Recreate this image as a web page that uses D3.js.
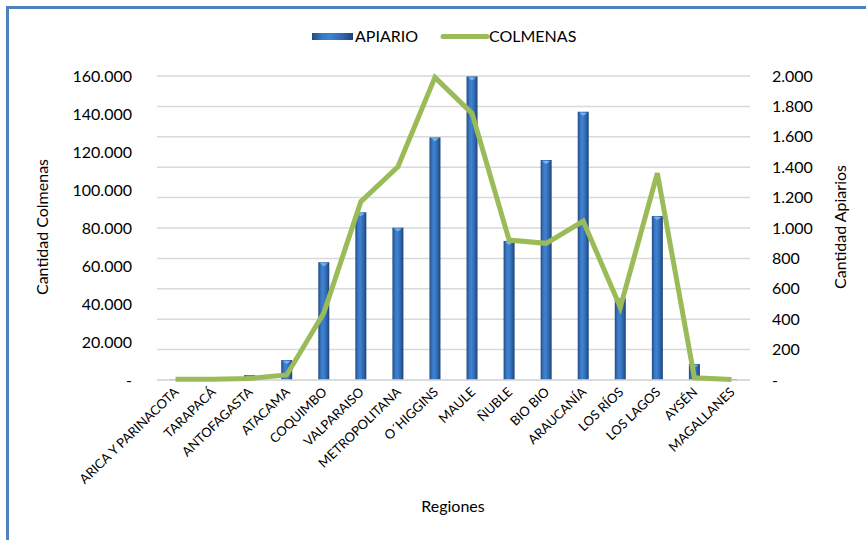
<!DOCTYPE html>
<html>
<head>
<meta charset="utf-8">
<script src="https://cdn.jsdelivr.net/npm/d3@7"></script>
<style>
  html, body { margin: 0; padding: 0; background: #fff; }
  svg { display: block; font-family: Lato, "Open Sans", sans-serif; }
</style>
</head>
<body>
<svg id="chart" width="866" height="540"></svg>
<script>
// ---- data ----
const regiones = ["ARICA Y PARINACOTA","TARAPACÁ","ANTOFAGASTA","ATACAMA","COQUIMBO","VALPARAISO","METROPOLITANA","O´HIGGINS","MAULE","ÑUBLE","BIO BIO","ARAUCANÍA","LOS RÍOS","LOS LAGOS","AYSÉN","MAGALLANES"];
const apiario  = [300, 100, 2600, 10500, 62000, 88300, 80200, 127700, 159800, 73200, 115800, 141200, 43000, 86300, 8400, 500];
const colmenas = [5, 5, 10, 33, 441, 1173, 1403, 1991, 1754, 921, 899, 1046, 478, 1360, 15, 4];
const leftTicks  = [0, 20000, 40000, 60000, 80000, 100000, 120000, 140000, 160000];
const rightTicks = [0, 200, 400, 600, 800, 1000, 1200, 1400, 1600, 1800, 2000];
const seriesNames = ["APIARIO", "COLMENAS"];

// ---- layout ----
const svg = d3.select("#chart");
const L = 157, R = 750, T = 76, B = 380;

const fmt = v => v === 0 ? "-" : d3.format(",")(v).replace(/,/g, ".");

const x = d3.scaleBand().domain(regiones).range([L, R]).padding(0);
const yL = d3.scaleLinear().domain([0, 160000]).range([B, T]);
const yR = d3.scaleLinear().domain([0, 2000]).range([B, T]);

// chart frame
svg.append("rect").attr("x", 7.5).attr("y", 7.5).attr("width", 880).attr("height", 560)
  .attr("fill", "none").attr("stroke", "#4f81bd").attr("stroke-width", 3);

// gradients
const defs = svg.append("defs");
const g = defs.append("linearGradient").attr("id", "barGrad").attr("x1", "0").attr("x2", "1").attr("y1", "0").attr("y2", "0");
[["0%", "#1f4a82"], ["25%", "#3a78c4"], ["45%", "#3f82d2"], ["75%", "#2f65ab"], ["100%", "#1c4378"]]
  .forEach(([o, c]) => g.append("stop").attr("offset", o).attr("stop-color", c));

// gridlines (from right axis)
svg.append("g").selectAll("line").data(rightTicks).join("line")
  .attr("x1", L).attr("x2", R)
  .attr("y1", d => yR(d)).attr("y2", d => yR(d))
  .attr("stroke", "#d9d9d9").attr("stroke-width", 1.5);

// left axis
const axL = svg.append("g").attr("transform", `translate(${L},0)`)
  .call(d3.axisLeft(yL).tickValues(leftTicks).tickFormat(fmt).tickSize(0).tickPadding(25));
axL.select(".domain").remove();
axL.selectAll("text").attr("font-size", 16).attr("fill", "#000").attr("font-family", "Lato, sans-serif");

// right axis
const axR = svg.append("g").attr("transform", `translate(${R},0)`)
  .call(d3.axisRight(yR).tickValues(rightTicks).tickFormat(fmt).tickSize(0).tickPadding(22));
axR.select(".domain").remove();
axR.selectAll("text").attr("font-size", 16).attr("fill", "#000").attr("font-family", "Lato, sans-serif");

// bars
const bw = 11;
const bars = svg.append("g");
bars.selectAll("rect").data(regiones).join("rect")
  .attr("x", d => x(d) + x.bandwidth() / 2 - bw / 2)
  .attr("width", bw)
  .attr("y", (d, i) => yL(apiario[i]))
  .attr("height", (d, i) => B - yL(apiario[i]))
  .attr("fill", "url(#barGrad)");
bars.selectAll("path.cap").data(regiones).join("path").attr("class", "cap")
  .attr("d", (d, i) => {
    const cx = x(d) + x.bandwidth() / 2, ty = yL(apiario[i]);
    if (B - ty < 4) return null;
    return `M${cx - 4},${ty + 1}L${cx + 4},${ty + 1}L${cx},${ty + 4}Z`;
  })
  .attr("fill", "#8fc0f0").attr("opacity", 0.8);

// x axis labels
const axX = svg.append("g").attr("transform", `translate(0,${B})`)
  .call(d3.axisBottom(x).tickSize(0).tickPadding(0));
axX.select(".domain").remove();
axX.selectAll("text")
  .attr("font-size", 13).attr("fill", "#000").attr("font-family", "Lato, sans-serif")
  .attr("text-anchor", "end")
  .attr("dy", 0)
  .attr("transform", "translate(4,13) rotate(-44)");

// baseline
svg.append("line").attr("x1", L).attr("x2", R).attr("y1", B).attr("y2", B)
  .attr("stroke", "#d9d9d9").attr("stroke-width", 1.5);

// line series
const line = d3.line()
  .x((d, i) => x(regiones[i]) + x.bandwidth() / 2)
  .y(d => yR(d));
svg.append("path").datum(colmenas)
  .attr("d", line)
  .attr("fill", "none").attr("stroke", "#9bbb59").attr("stroke-width", 5)
  .attr("stroke-linejoin", "miter");

// axis titles
svg.append("text").attr("transform", "translate(48,227) rotate(-90)")
  .attr("text-anchor", "middle").attr("font-size", 16).text("Cantidad Colmenas");
svg.append("text").attr("transform", "translate(846,227) rotate(-90)")
  .attr("text-anchor", "middle").attr("font-size", 16).text("Cantidad Apiarios");
svg.append("text").attr("x", 453).attr("y", 512)
  .attr("text-anchor", "middle").attr("font-size", 16).text("Regiones");

// legend
const lg = svg.append("g");
lg.append("rect").attr("x", 312).attr("y", 33).attr("width", 41).attr("height", 7).attr("fill", "url(#barGrad)");
lg.append("text").attr("x", 355).attr("y", 42).attr("font-size", 16).text(seriesNames[0]);
lg.append("line").attr("x1", 443).attr("x2", 487).attr("y1", 36.5).attr("y2", 36.5)
  .attr("stroke", "#9bbb59").attr("stroke-width", 5).attr("stroke-linecap", "round");
lg.append("text").attr("x", 489).attr("y", 42).attr("font-size", 16).text(seriesNames[1]);
</script>
</body>
</html>
